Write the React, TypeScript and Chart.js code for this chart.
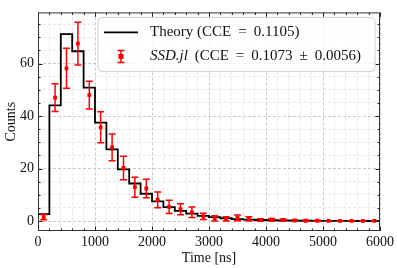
import React, { useEffect, useRef } from "react";
import { Chart, registerables } from "chart.js";

Chart.register(...registerables);

// ---- data ----
const binEdges = [
  0, 200, 400, 600, 800, 1000, 1200, 1400, 1600, 1800, 2000, 2200, 2400, 2600, 2800, 3000,
  3200, 3400, 3600, 3800, 4000, 4200, 4400, 4600, 4800, 5000, 5200, 5400, 5600, 5800, 6000,
];
const theoryCounts = [
  2.6, 44.1, 71.2, 64.7, 50.8, 37.5, 27.3, 19.7, 14.3, 10.4, 7.5, 5.3, 3.9, 2.8, 2.0,
  1.45, 1.05, 0.75, 0.55, 0.4, 0.3, 0.2, 0.15, 0.1, 0.08, 0.06, 0.04, 0.03, 0.02, 0.02,
];
const binCenters = [
  100, 300, 500, 700, 900, 1100, 1300, 1500, 1700, 1900, 2100, 2300, 2500, 2700, 2900,
  3100, 3300, 3500, 3700, 3900, 4100, 4300, 4500, 4700, 4900, 5100, 5300, 5500, 5700, 5900,
];
const simCounts = [
  1.5, 47.0, 58.2, 67.6, 48.0, 35.7, 28.1, 20.2, 12.9, 12.4, 8.1, 5.4, 4.5, 3.3, 1.8,
  1.0, 0.85, 1.2, 0.85, 0.4, 0.5, 0.4, 0.2, 0.1, 0.1, 0.05, 0.05, 0.05, 0.05, 0.05,
];
const simErrors = [
  1.0, 5.3, 7.6, 8.1, 5.3, 5.9, 5.1, 4.5, 3.8, 3.5, 3.0, 2.5, 2.1, 2.0, 1.2,
  1.0, 0.8, 1.1, 0.8, 0.5, 0.5, 0.4, 0.3, 0.2, 0.2, 0.1, 0.1, 0.1, 0.1, 0.1,
];
const xTickValues = [
  0, 200, 400, 600, 800, 1000, 1200, 1400, 1600, 1800, 2000, 2200, 2400, 2600, 2800, 3000,
  3200, 3400, 3600, 3800, 4000, 4200, 4400, 4600, 4800, 5000, 5200, 5400, 5600, 5800, 6000,
];
const xMajorTicks = [0, 1000, 2000, 3000, 4000, 5000, 6000];
const yTickValues = [0, 5, 10, 15, 20, 25, 30, 35, 40, 45, 50, 55, 60, 65, 70, 75];
const yMajorTicks = [0, 20, 40, 60];
const xRange = [0, 6000];
const yRange = [-3.8, 79.5];
const xTitle = "Time [ns]";
const yTitle = "Counts";
// legend label pieces (math-style spacing around operators)
const theoryLabelPieces = ["Theory (CCE", "=", "0.1105)"];
const simLabelItalic = "SSD.jl";
const simLabelPieces = [" (CCE", "=", "0.1073", "±", "0.0056)"];

const RED = "#ff0000";
const FONT = "'Liberation Serif', 'Times New Roman', serif";

const errorBarPlugin = {
  id: "errbars",
  afterDatasetDraw(chart: any, args: any) {
    if (args.index !== 1) return;
    const { ctx, scales } = chart;
    const x = scales.x, y = scales.y;
    ctx.save();
    ctx.strokeStyle = RED;
    ctx.lineWidth = 1.5;
    binCenters.forEach((c, i) => {
      const px = x.getPixelForValue(c);
      const top = y.getPixelForValue(simCounts[i] + simErrors[i]);
      const bot = y.getPixelForValue(simCounts[i] - simErrors[i]);
      ctx.beginPath();
      ctx.moveTo(px, top);
      ctx.lineTo(px, bot);
      ctx.moveTo(px - 3.5, top);
      ctx.lineTo(px + 3.5, top);
      ctx.moveTo(px - 3.5, bot);
      ctx.lineTo(px + 3.5, bot);
      ctx.stroke();
    });
    ctx.restore();
  },
};

function drawPieces(ctx: any, pieces: string[], x: number, y: number, gap: number) {
  let cx = x;
  pieces.forEach((p, i) => {
    ctx.fillText(p, cx, y);
    cx += ctx.measureText(p).width;
    if (i < pieces.length - 1) cx += gap;
  });
  return cx;
}

const framePlugin = {
  id: "frame",
  afterDraw(chart: any) {
    const { ctx, chartArea, scales } = chart;
    const { left, right, top, bottom } = chartArea;
    ctx.save();
    ctx.strokeStyle = "#222";
    ctx.lineWidth = 1;
    ctx.beginPath();
    xTickValues.forEach((v) => {
      const px = Math.round(scales.x.getPixelForValue(v)) + 0.5;
      const len = xMajorTicks.includes(v) ? 4.5 : 2.5;
      ctx.moveTo(px, bottom);
      ctx.lineTo(px, bottom - len);
      ctx.moveTo(px, top);
      ctx.lineTo(px, top + len);
    });
    yTickValues.forEach((v) => {
      const py = Math.round(scales.y.getPixelForValue(v)) + 0.5;
      const len = yMajorTicks.includes(v) ? 4.5 : 2.5;
      ctx.moveTo(left, py);
      ctx.lineTo(left + len, py);
      ctx.moveTo(right, py);
      ctx.lineTo(right - len, py);
    });
    ctx.stroke();
    ctx.strokeStyle = "#333";
    ctx.strokeRect(left + 0.5, top + 0.5, right - left - 1, bottom - top - 1);
    ctx.restore();

    // legend
    const fs = 15;
    const bx0 = left + 60, by0 = top + 5, bx1 = right - 5, by1 = top + 59;
    ctx.save();
    ctx.beginPath();
    const r = 4;
    ctx.moveTo(bx0 + r, by0);
    ctx.arcTo(bx1, by0, bx1, by1, r);
    ctx.arcTo(bx1, by1, bx0, by1, r);
    ctx.arcTo(bx0, by1, bx0, by0, r);
    ctx.arcTo(bx0, by0, bx1, by0, r);
    ctx.closePath();
    ctx.fillStyle = "rgba(255,255,255,0.8)";
    ctx.fill();
    ctx.strokeStyle = "#d0d0d0";
    ctx.lineWidth = 1;
    ctx.stroke();

    const row1 = by0 + 15, row2 = by0 + 39;
    const hx0 = bx0 + 6, hx1 = bx0 + 40, tx = bx0 + 52;
    ctx.strokeStyle = "#000";
    ctx.lineWidth = 1.8;
    ctx.beginPath();
    ctx.moveTo(hx0, row1);
    ctx.lineTo(hx1, row1);
    ctx.stroke();

    const hc = (hx0 + hx1) / 2;
    ctx.strokeStyle = RED;
    ctx.lineWidth = 1.5;
    ctx.beginPath();
    ctx.moveTo(hc, row2 - 6);
    ctx.lineTo(hc, row2 + 6);
    ctx.moveTo(hc - 3.5, row2 - 6);
    ctx.lineTo(hc + 3.5, row2 - 6);
    ctx.moveTo(hc - 3.5, row2 + 6);
    ctx.lineTo(hc + 3.5, row2 + 6);
    ctx.stroke();
    ctx.fillStyle = RED;
    ctx.fillRect(hc - 2.5, row2 - 2.5, 5, 5);

    ctx.fillStyle = "#111";
    ctx.textBaseline = "middle";
    ctx.textAlign = "left";
    ctx.font = `${fs}px ${FONT}`;
    drawPieces(ctx, theoryLabelPieces, tx, row1, 7);
    ctx.font = `italic ${fs}px ${FONT}`;
    ctx.fillText(simLabelItalic, tx, row2);
    const w = ctx.measureText(simLabelItalic).width + 3;
    ctx.font = `${fs}px ${FONT}`;
    drawPieces(ctx, simLabelPieces, tx + w, row2, 7);
    ctx.restore();
  },
};

export default function App() {
  const ref = useRef<HTMLCanvasElement | null>(null);
  useEffect(() => {
    if (!ref.current) return;
    const theoryData = binEdges.map((x, i) => ({
      x,
      y: theoryCounts[Math.min(i, theoryCounts.length - 1)],
    }));
    const simData = binCenters.map((x, i) => ({ x, y: simCounts[i] }));
    const gridColor = (ctx: any, majors: number[]) =>
      ctx.tick && majors.includes(ctx.tick.value) ? "#bdbdbd" : "#e2e2e2";
    const chart = new Chart(ref.current, {
      type: "line",
      data: {
        datasets: [
          {
            label: "Theory",
            data: theoryData,
            stepped: "before",
            borderColor: "#000",
            borderWidth: 1.8,
            pointRadius: 0,
            fill: false,
            order: 2,
          },
          {
            label: "SSD.jl",
            data: simData,
            showLine: false,
            pointStyle: "rect",
            pointRadius: 2.7,
            backgroundColor: RED,
            borderColor: RED,
            borderWidth: 0,
            order: 1,
          },
        ],
      },
      options: {
        animation: false,
        responsive: false,
        layout: { padding: { top: 2, right: 17, left: 0, bottom: 0 } },
        plugins: { legend: { display: false }, tooltip: { enabled: false } },
        scales: {
          x: {
            type: "linear",
            min: xRange[0],
            max: xRange[1],
            afterBuildTicks: (s: any) => {
              s.ticks = xTickValues.map((v) => ({ value: v }));
            },
            afterFit: (s: any) => {
              s.height = 37;
            },
            ticks: {
              autoSkip: false,
              maxRotation: 0,
              padding: 3,
              color: "#111",
              font: { family: FONT, size: 14 },
              callback: (v: any) => (xMajorTicks.includes(Number(v)) ? String(v) : ""),
            },
            grid: {
              drawTicks: false,
              color: (c: any) => gridColor(c, xMajorTicks),
              lineWidth: 0.8,
            },
            border: { display: false, dash: [3, 2] },
            title: {
              display: true,
              text: xTitle,
              color: "#111",
              font: { family: FONT, size: 14 },
              padding: { top: 0, bottom: 1 },
            },
          },
          y: {
            type: "linear",
            min: yRange[0],
            max: yRange[1],
            afterBuildTicks: (s: any) => {
              s.ticks = yTickValues.map((v) => ({ value: v }));
            },
            afterFit: (s: any) => {
              s.width = 38;
            },
            ticks: {
              autoSkip: false,
              padding: 4,
              color: "#111",
              font: { family: FONT, size: 14 },
              callback: (v: any) => (yMajorTicks.includes(Number(v)) ? String(v) : ""),
            },
            grid: {
              drawTicks: false,
              color: (c: any) => gridColor(c, yMajorTicks),
              lineWidth: 0.8,
            },
            border: { display: false, dash: [3, 2] },
            title: {
              display: true,
              text: yTitle,
              color: "#111",
              font: { family: FONT, size: 14 },
              padding: { top: 3, bottom: 0 },
            },
          },
        },
      },
      plugins: [errorBarPlugin, framePlugin],
    } as any);
    return () => chart.destroy();
  }, []);
  return (
    <div style={{ position: "fixed", left: 0, top: 0, width: 397, height: 268, background: "#fff" }}>
      <canvas ref={ref} width={397} height={268} style={{ display: "block" }} />
    </div>
  );
}
